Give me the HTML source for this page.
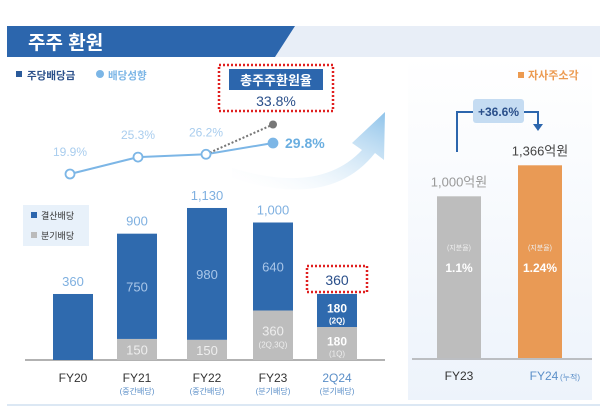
<!DOCTYPE html>
<html><head><meta charset="utf-8"><style>
body{margin:0;width:600px;height:406px;background:#fff;overflow:hidden;font-family:"Liberation Sans","Noto Sans CJK KR",sans-serif}
</style></head><body>
<svg width="600" height="406" viewBox="0 0 600 406" xmlns="http://www.w3.org/2000/svg" font-family="Liberation Sans, Noto Sans CJK KR, sans-serif">
<defs>
<linearGradient id="panelg" x1="0" y1="0" x2="0" y2="1"><stop offset="0" stop-color="#fff"/><stop offset="1" stop-color="#edf3fb"/></linearGradient>
<linearGradient id="swoosh" x1="0" y1="1" x2="1" y2="0"><stop offset="0" stop-color="#fff" stop-opacity="0"/><stop offset="1" stop-color="#7ab8e6"/></linearGradient>
</defs>
<g>
<rect x="7" y="26" width="593" height="31" fill="#e8eef7"/>
<polygon points="7,26 295,26 275,57 7,57" fill="#2c66ad"/>
<text x="28" y="49" font-size="19" fill="#fff" font-weight="bold">주주 환원</text>
</g>
<g><rect x="16" y="71" width="6" height="6" fill="#2a5a9a"/><text x="27" y="79" font-size="10.5" font-weight="bold" fill="#2a4f8a">주당배당금</text></g>
<g><circle cx="100" cy="74" r="4" fill="#7cb6e6"/><text x="108" y="79" font-size="10.5" font-weight="bold" fill="#7cb6e6">배당성향</text></g>
<path d="M232,168 Q320,195 362,150 L352,143 L385,112 L384,160 L375,153 Q330,210 232,178 Z" fill="url(#swoosh)" opacity="0.85"/>
<g>
<rect x="219" y="65" width="114" height="46" fill="#fff" stroke="#e02020" stroke-width="2.5" stroke-dasharray="2,2"/>
<rect x="229" y="69" width="94" height="21" fill="#2c66ad"/>
<text x="276" y="85" font-size="13" font-weight="bold" fill="#fff" text-anchor="middle">총주주환원율</text>
<text x="276" y="106" font-size="14" fill="#2a4f8a" text-anchor="middle" id="trtext">33.8%</text>
</g>
<g id="left"></g>
<g id="right"></g>
<g>
<rect x="23" y="205" width="66" height="41" fill="#e8f1fa"/>
<rect x="31" y="212" width="6" height="6" fill="#2c66ad"/><text x="41" y="219" font-size="9" fill="#333">결산배당</text>
<rect x="31" y="232" width="6" height="6" fill="#bbb"/><text x="41" y="239" font-size="9" fill="#333">분기배당</text>
</g>
<line x1="7" y1="405" x2="600" y2="405" stroke="#b8d0e8"/>
</svg>
<script>
const categories=["FY20","FY21","FY22","FY23","2Q24"];
const subLabels=["","(중간배당)","(중간배당)","(분기배당)","(분기배당)"];
const finalDiv=[360,750,980,640,180];
const quarterDiv=[0,150,150,360,180];
const totalDiv=[360,900,1130,1000,360];
const payoutRatio=[19.9,25.3,26.2,29.8];
const totalReturnRatio=33.8;
const buybackCats=["FY23","FY24"];
const buybackValues=[1000,1366];
const buybackLabels=["1,000억원","1,366억원"];
const stakeLabels=["1.1%","1.24%"];
const NS="http://www.w3.org/2000/svg";
function mk(p,tag,a,txt){const e=document.createElementNS(NS,tag);for(const k in a)e.setAttribute(k,a[k]);if(txt!=null)e.textContent=txt;p.appendChild(e);return e;}
const L=document.getElementById('left'),R=document.getElementById('right');
const base=360,cx=[73,137,207,273,337],bw=40;
function barH(v){return 25.8+0.1117*v;}
function yP(p){return 174-(p-19.9)*3.13;}
function fmt(v){return v.toLocaleString('en-US');}
mk(L,'line',{x1:25,y1:base,x2:385,y2:base,stroke:'#999','stroke-width':1.5,});
categories.forEach((c,i)=>{
 const H=barH(totalDiv[i]);const qh=H*quarterDiv[i]/totalDiv[i];const fh=H-qh;
 const g=mk(L,'g',{});
 
 
 if(qh>0)mk(g,'rect',{x:cx[i]-bw/2,y:base-qh,width:bw,height:qh,fill:'#bdbdbd'});
 mk(g,'rect',{x:cx[i]-bw/2,y:base-H,width:bw,height:fh,fill:'#2f6aae'});
 const last=i===4;
 if(i>0){
  if(last){mk(g,'text',{x:cx[i],y:base-qh-fh/2+2,'font-size':12,'font-weight':'bold',fill:'#fff','text-anchor':'middle'},fmt(finalDiv[i]));
   mk(g,'text',{x:cx[i],y:base-qh-fh/2+13,'font-size':8,'font-weight':'bold',fill:'#fff','text-anchor':'middle'},'(2Q)');
   mk(g,'text',{x:cx[i],y:base-qh/2+2,'font-size':12,'font-weight':'bold',fill:'#fff','text-anchor':'middle'},fmt(quarterDiv[i]));
   mk(g,'text',{x:cx[i],y:base-qh/2+13,'font-size':8,fill:'#eee','text-anchor':'middle'},'(1Q)');
  }else{
   mk(g,'text',{x:cx[i],y:base-qh-fh/2+5,'font-size':13,fill:'#a9c6e8','text-anchor':'middle'},fmt(finalDiv[i]));
   mk(g,'text',{x:cx[i],y:base-qh/2+(i==3?0:5),'font-size':13,fill:'#eee','text-anchor':'middle'},fmt(quarterDiv[i]));
   if(i==3)mk(g,'text',{x:cx[i],y:base-qh/2+12,'font-size':8,fill:'#eee','text-anchor':'middle'},'(2Q,3Q)');
  }
 }
 if(last){mk(g,'rect',{x:cx[i]-30,y:base-H-28,width:60,height:26,fill:'none',stroke:'#e02020','stroke-width':2.5,'stroke-dasharray':'2,2'});
  mk(g,'text',{x:cx[i],y:base-H-9,'font-size':14,fill:'#2a4f8a','text-anchor':'middle'},fmt(totalDiv[i]));}
 else mk(g,'text',{x:cx[i],y:base-H-8,'font-size':13,fill:'#7fb0e0','text-anchor':'middle'},fmt(totalDiv[i]));
 const t=mk(L,'text',{x:cx[i],y:382,'font-size':12,fill:last?'#5b8fc8':'#333','text-anchor':'middle'},c);
 
 
 if(subLabels[i])mk(L,'text',{x:cx[i],y:394,'font-size':8,fill:'#5b8fc8','text-anchor':'middle'},subLabels[i]);
});
const pts=payoutRatio.map((p,i)=>[cx[i]-3+(i==0?0:i==1?4:i==2?2:3),yP(p)]);
mk(L,'polyline',{points:pts.map(p=>p.join(',')).join(' '),fill:'none',stroke:'#7cb6e6','stroke-width':2,});
const tp=[pts[2][0]+64+3,yP(totalReturnRatio)-6];
mk(L,'line',{x1:pts[2][0],y1:pts[2][1],x2:tp[0],y2:tp[1],stroke:'#777','stroke-width':2,'stroke-dasharray':'2,2',});
const gd=mk(L,'circle',{cx:tp[0],cy:tp[1],r:4,fill:'#777'});


pts.forEach((p,i)=>{
 const last=i===3;
 const c=mk(L,'circle',{cx:p[0],cy:p[1],r:4.5,fill:last?'#7cb6e6':'#fff',stroke:'#7cb6e6','stroke-width':1.8});
 
 
 if(last)mk(L,'text',{x:p[0]+12,y:p[1]+5,'font-size':14,fill:'#6aaee0','font-weight':'bold'},payoutRatio[i].toFixed(1)+'%');
 else mk(L,'text',{x:p[0],y:p[1]-18,'font-size':12,fill:'#a9cdee','text-anchor':'middle'},payoutRatio[i].toFixed(1)+'%');
});
mk(R,'rect',{x:408,y:57,width:184,height:343,fill:'url(#panelg)',});
mk(R,'rect',{x:518,y:72,width:6,height:6,fill:'#ec9a50'});
mk(R,'text',{x:528,y:79,'font-size':11,'font-weight':'bold',fill:'#ec9a50'},'자사주소각');
const rb=358,rx=[459,540],rw=44;
function rH(v){return 77+0.0847*v;}
mk(R,'line',{x1:412,y1:rb+1,x2:592,y2:rb+1,stroke:'#888',});
buybackValues.forEach((v,i)=>{
 const H=rH(v);
 const r=mk(R,'rect',{x:rx[i]-rw/2,y:rb-H,width:rw,height:H,fill:i?'#e99a55':'#bdbdbd'});
 
 
 mk(R,'text',{x:rx[i],y:rb-H-10,'font-size':13,fill:i?'#444':'#999','text-anchor':'middle'},buybackLabels[i]);
 mk(R,'text',{x:rx[i],y:250,'font-size':7,fill:'#eee','text-anchor':'middle'},'(지분율)');
 mk(R,'text',{x:rx[i],y:272,'font-size':12,'font-weight':'bold',fill:'#fff','text-anchor':'middle'},stakeLabels[i]);
 mk(R,'text',{x:rx[i]+(i?4:0),y:380,'font-size':12,fill:i?'#5b8fc8':'#333','text-anchor':'middle'},buybackCats[i]);
});
mk(R,'text',{x:560,y:380,'font-size':8,fill:'#5b8fc8'},'(누적)');
mk(R,'polyline',{points:'457,152 457,112 538,112 538,126',fill:'none',stroke:'#2c66ad','stroke-width':2,});
mk(R,'polygon',{points:'533,124 543,124 538,131',fill:'#2c66ad'});
mk(R,'rect',{x:473,y:99,width:51,height:24,rx:3,fill:'#c5dcf2',});
mk(R,'text',{x:498.5,y:116,'font-size':12,'font-weight':'bold',fill:'#2a4f8a','text-anchor':'middle'},'+36.6%');
</script>
</body></html>
